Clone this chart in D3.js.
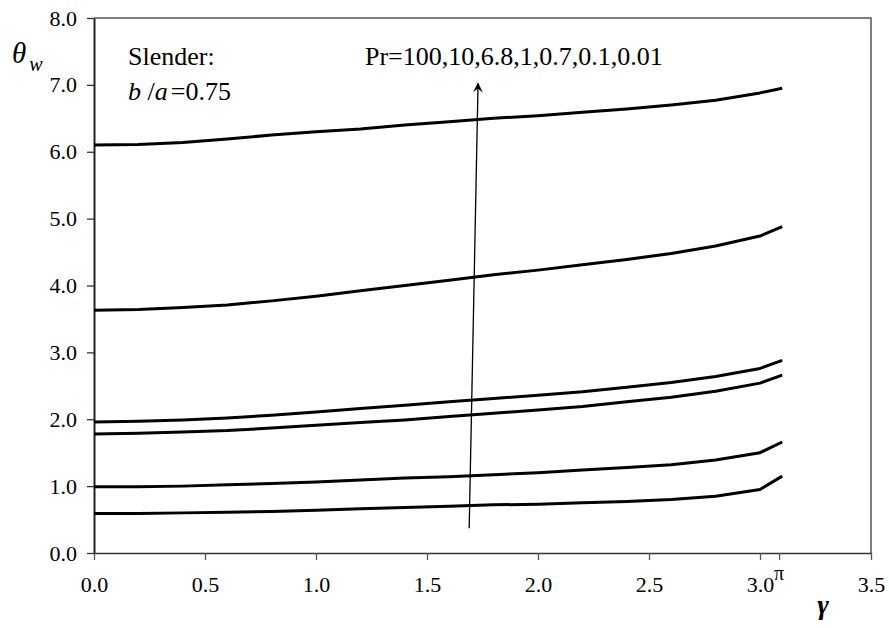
<!DOCTYPE html>
<html>
<head>
<meta charset="utf-8">
<script src="https://cdn.jsdelivr.net/npm/d3@7"></script>
<style>
  body { margin: 0; background: #fff; }
</style>
</head>
<body>
<div id="vis"></div>
<script>
const FRAME_WIDTH = 889;
const FRAME_HEIGHT = 628;
const MARGINS = {left: 94, right: 18, top: 18, bottom: 75};
const SERIF = "Liberation Serif, Times New Roman, serif";

// gamma positions of the computed points
const gamma = [0, 0.2, 0.4, 0.6, 0.8, 1.0, 1.2, 1.4, 1.6, 1.8, 2.0, 2.2, 2.4, 2.6, 2.8, 3.0, 3.1];

// theta_w curves, top to bottom
const curveA = [6.10, 6.11, 6.14, 6.19, 6.25, 6.30, 6.34, 6.40, 6.45, 6.50, 6.54, 6.59, 6.64, 6.70, 6.77, 6.88, 6.95];
const curveB = [3.63, 3.64, 3.67, 3.71, 3.77, 3.84, 3.92, 4.00, 4.08, 4.16, 4.23, 4.31, 4.39, 4.48, 4.59, 4.74, 4.88];
const curveC = [1.96, 1.97, 1.99, 2.02, 2.06, 2.11, 2.16, 2.21, 2.26, 2.31, 2.36, 2.41, 2.48, 2.55, 2.64, 2.76, 2.88];
const curveD = [1.78, 1.79, 1.81, 1.83, 1.87, 1.91, 1.95, 1.99, 2.04, 2.09, 2.14, 2.19, 2.26, 2.33, 2.42, 2.54, 2.66];
const curveE = [0.99, 0.99, 1.00, 1.02, 1.04, 1.06, 1.09, 1.12, 1.14, 1.17, 1.20, 1.24, 1.28, 1.32, 1.39, 1.50, 1.66];
const curveF = [0.59, 0.59, 0.60, 0.61, 0.62, 0.64, 0.66, 0.68, 0.70, 0.72, 0.73, 0.75, 0.77, 0.80, 0.85, 0.95, 1.15];

const xTicks = [0, 0.5, 1.0, 1.5, 2.0, 2.5, 3.0, 3.5];
const yTicks = [0, 1, 2, 3, 4, 5, 6, 7, 8];
const piTick = 3.086;   // where the pi mark sits on the drawn axis

// arrow: from low Pr to high Pr
const arrowFrom = [1.69, 0.37];
const arrowTo = [1.73, 7.02];

const VIS_WIDTH = FRAME_WIDTH - MARGINS.left - MARGINS.right;
const VIS_HEIGHT = FRAME_HEIGHT - MARGINS.top - MARGINS.bottom;

const FRAME = d3.select("#vis")
  .append("svg")
    .attr("width", FRAME_WIDTH)
    .attr("height", FRAME_HEIGHT)
    .attr("font-family", SERIF);

const X_SCALE = d3.scaleLinear().domain([0, 3.5]).range([MARGINS.left, MARGINS.left + VIS_WIDTH]);
const Y_SCALE = d3.scaleLinear().domain([0, 8]).range([MARGINS.top + VIS_HEIGHT, MARGINS.top]);

// frame top + right (grey)
FRAME.append("path")
  .attr("d", `M${X_SCALE(0)},${Y_SCALE(8)}H${X_SCALE(3.5)}V${Y_SCALE(0)}`)
  .attr("fill", "none")
  .attr("stroke", "#555")
  .attr("stroke-width", 1.5);

// x axis
const xAxis = FRAME.append("g")
  .attr("transform", "translate(0," + Y_SCALE(0) + ")")
  .call(d3.axisBottom(X_SCALE).tickValues(xTicks.concat([piTick])).tickSize(7).tickSizeOuter(0)
    .tickFormat(d => d === piTick ? "" : d3.format(".1f")(d)))
  .attr("font-family", SERIF);
xAxis.select(".domain").attr("stroke", "#333").attr("stroke-width", 1.5);
xAxis.selectAll(".tick line").attr("stroke", "#555").attr("stroke-width", 1.3);
xAxis.selectAll(".tick text")
  .attr("y", 32)
  .attr("dy", "0.32em")
  .attr("font-size", "22px");

// y axis
const yAxis = FRAME.append("g")
  .attr("transform", "translate(" + X_SCALE(0) + ",0)")
  .call(d3.axisLeft(Y_SCALE).tickValues(yTicks).tickSize(7).tickSizeOuter(0)
    .tickFormat(d3.format(".1f")))
  .attr("font-family", SERIF);
yAxis.select(".domain").attr("stroke", "#222").attr("stroke-width", 2);
yAxis.selectAll(".tick line").attr("stroke", "#333").attr("stroke-width", 1.3);
yAxis.selectAll(".tick text")
  .attr("x", -17)
  .attr("font-size", "22px");

// pi label over its tick
FRAME.append("text")
  .attr("x", X_SCALE(piTick))
  .attr("y", Y_SCALE(0) + 27)
  .attr("text-anchor", "middle")
  .attr("font-size", "20px")
  .text("π");

// curves
const series = [curveA, curveB, curveC, curveD, curveE, curveF];
const line = d3.line()
  .x((d, i) => X_SCALE(gamma[i]))
  .y(d => Y_SCALE(d));

FRAME.selectAll(".curve")
  .data(series)
  .enter()
  .append("path")
    .attr("class", "curve")
    .attr("d", line)
    .attr("fill", "none")
    .attr("stroke", "#000")
    .attr("stroke-width", 3)
    .attr("stroke-linejoin", "round");

// arrow
FRAME.append("defs").append("marker")
  .attr("id", "head")
  .attr("viewBox", "0 0 10 10")
  .attr("refX", 9).attr("refY", 5)
  .attr("markerWidth", 10).attr("markerHeight", 10)
  .attr("markerUnits", "userSpaceOnUse")
  .attr("orient", "auto")
  .append("path")
    .attr("d", "M0,0 L10,5 L0,10 L4,5 Z")
    .attr("fill", "#000");

FRAME.append("line")
  .attr("x1", X_SCALE(arrowFrom[0])).attr("y1", Y_SCALE(arrowFrom[1]))
  .attr("x2", X_SCALE(arrowTo[0])).attr("y2", Y_SCALE(arrowTo[1]))
  .attr("stroke", "#000")
  .attr("stroke-width", 1.3)
  .attr("marker-end", "url(#head)");

// annotations
FRAME.append("text")
  .attr("x", 128).attr("y", 65)
  .attr("font-size", "26px")
  .text("Slender:");

const ba = FRAME.append("text")
  .attr("x", 128).attr("y", 100)
  .attr("font-size", "26px");
ba.append("tspan").attr("font-style", "italic").text("b");
ba.append("tspan").text(" /");
ba.append("tspan").attr("font-style", "italic").text("a");
ba.append("tspan").attr("dx", 3).text("=0.75");

FRAME.append("text")
  .attr("x", 365).attr("y", 65)
  .attr("font-size", "26px")
  .text("Pr=100,10,6.8,1,0.7,0.1,0.01");

// axis titles
const yTitle = FRAME.append("text")
  .attr("x", 12).attr("y", 63)
  .attr("font-size", "29px")
  .attr("font-style", "italic");
yTitle.append("tspan").text("θ");
yTitle.append("tspan").attr("font-size", "20px").attr("dx", 3).attr("dy", 8).text("w");

FRAME.append("text")
  .attr("x", 823).attr("y", 614)
  .attr("text-anchor", "middle")
  .attr("font-size", "28px")
  .attr("font-style", "italic")
  .attr("font-weight", "bold")
  .text("γ");
</script>
</body>
</html>
